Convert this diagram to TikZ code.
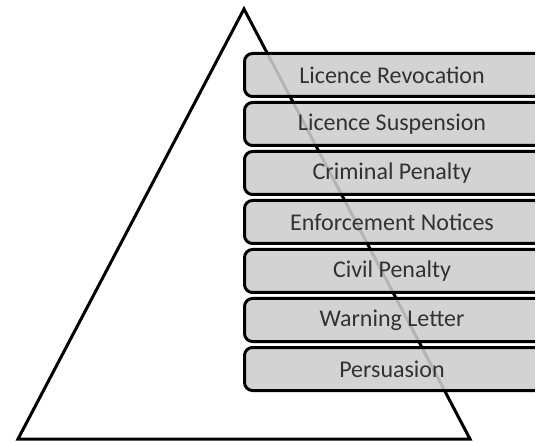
\documentclass[tikz,border=0pt]{standalone}
\usepackage{fontspec}
\setmainfont{Carlito}
\usetikzlibrary{positioning}
\definecolor{boxgray}{RGB}{205,205,205}
\definecolor{labelgray}{RGB}{50,50,50}

\begin{document}
\begin{tikzpicture}[
    x=1pt, y=-1pt,
    level/.style={rectangle, rounded corners=8pt, draw=black, line width=3pt, fill=boxgray, fill opacity=0.88, anchor=west, minimum width=330pt, minimum height=43pt},
    levellabel/.style={font=\fontsize{24}{28}\selectfont, text=labelgray},
    pyramid/.style={draw=black, line width=3pt, line join=miter}
]

\useasboundingbox (0,0) rectangle (535,443);
\clip (0,0) rectangle (535,443);

% Pyramid outline
\draw[pyramid] (244,9) -- (470,439) -- (18,439) -- cycle;

% Enforcement levels
\node[level] (b1) at (243, 75) {};
\node[level] (b2) at (243, 124) {};
\node[level] (b3) at (243, 173) {};
\node[level] (b4) at (243, 222) {};
\node[level] (b5) at (243, 271) {};
\node[level] (b6) at (243, 320) {};
\node[level] (b7) at (243, 369) {};

% Level labels
\node[levellabel] (l1) at (392, 75) {Licence Revocation};
\node[levellabel] (l2) at (392, 124) {Licence Suspension};
\node[levellabel] (l3) at (392, 173) {Criminal Penalty};
\node[levellabel] (l4) at (392, 222) {Enforcement Notices};
\node[levellabel] (l5) at (392, 271) {Civil Penalty};
\node[levellabel] (l6) at (392, 320) {Warning Letter};
\node[levellabel] (l7) at (392, 369) {Persuasion};

\end{tikzpicture}
\end{document}
